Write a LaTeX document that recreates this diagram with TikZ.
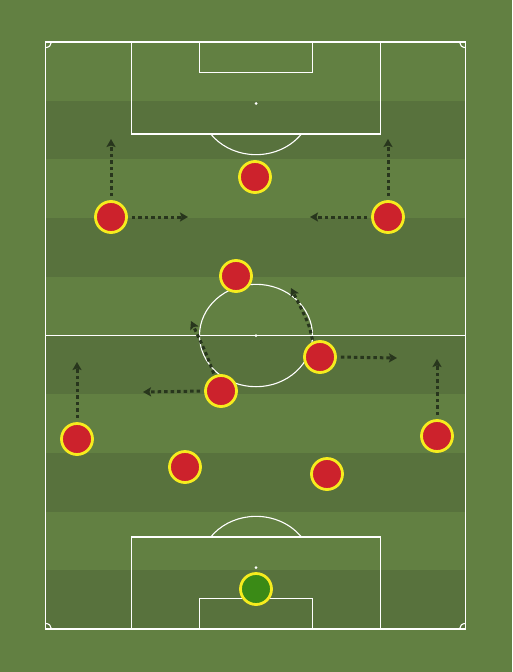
\documentclass[tikz,border=0pt]{standalone}
\usetikzlibrary{arrows.meta,shadows}
\definecolor{grassL}{RGB}{98,128,66}
\definecolor{grassD}{RGB}{88,114,61}
\definecolor{kitred}{RGB}{204,34,44}
\definecolor{kitring}{RGB}{246,236,30}
\definecolor{gkgreen}{RGB}{58,138,22}
\definecolor{arrowc}{RGB}{40,54,29}
\begin{document}
\begin{tikzpicture}[x=1pt,y=-1pt,
  pline/.style={draw=white, line width=1.1pt},
  stripe/.style={fill=grassD, draw=none},
  player/.style={circle, fill=kitred, draw=kitring, line width=2.8pt, minimum size=31pt, inner sep=0pt,
    drop shadow={opacity=0.25, shadow xshift=0pt, shadow yshift=-1pt}},
  keeper/.style={player, fill=gkgreen},
  run/.style={draw=arrowc, line width=3pt, dash pattern=on 3.5pt off 3pt,
    -{Stealth[length=8pt,width=9pt,inset=1.5pt]}},
  spot/.style={circle, fill=white, inner sep=0pt, minimum size=3pt}]
% background
\fill[grassL] (0,0) rectangle (512,672);
\useasboundingbox (0,0) rectangle (512,672);
% stripes
\foreach \k in {1,3,5,7,9}{
  \fill[grassD] (45.5,{42+58.7*\k}) rectangle (465.5,{42+58.7*(\k+1)});
}
% pitch outline and lines
\draw[pline] (45.5,42) rectangle (465.5,629);
\draw[pline] (45.5,335.5) -- (465.5,335.5);
\draw[pline] (256,335.5) ellipse[x radius=56.5, y radius=51.2];
\node[spot] (cs) at (256,335.5) {};
% top end
\draw[pline] (131.5,42) rectangle (380.5,134);
\draw[pline] (199.5,42) rectangle (312.5,72.7);
\node[spot] (ts) at (256,103.5) {};
\draw[pline] (301.4,134) arc[start angle=36.6, end angle=143.4, x radius=56.5, y radius=51.2];
% bottom end
\draw[pline] (131.5,537) rectangle (380.5,629);
\draw[pline] (199.5,598.3) rectangle (312.5,629);
\node[spot] (bs) at (256,567.5) {};
\draw[pline] (301.4,537) arc[start angle=-36.6, end angle=-143.4, x radius=56.5, y radius=51.2];
% corner arcs
\draw[pline] (51.5,42) arc[start angle=0, end angle=90, x radius=6, y radius=5.6];
\draw[pline] (459.5,42) arc[start angle=180, end angle=90, x radius=6, y radius=5.6];
\draw[pline] (51.5,629) arc[start angle=0, end angle=-90, x radius=6, y radius=5.6];
\draw[pline] (459.5,629) arc[start angle=180, end angle=270, x radius=6, y radius=5.6];
% players
\node[player] (p1) at (255,177) {};
\node[player] (p2) at (111,217) {};
\node[player] (p3) at (388,217) {};
\node[player] (p4) at (236,276) {};
\node[player] (p5) at (320,357) {};
\node[player] (p6) at (221,391) {};
\node[player] (p7) at (77,439) {};
\node[player] (p8) at (437,436) {};
\node[player] (p9) at (185,467) {};
\node[player] (p10) at (327,474) {};
\node[keeper] (gk) at (256,589) {};
% arrow targets
\coordinate (t1) at (111,139);
\coordinate (t2) at (188,217);
\coordinate (t3) at (388,139);
\coordinate (t4) at (310,217);
\coordinate (t5) at (291,288);
\coordinate (t6) at (191,321);
\coordinate (t7) at (397,358);
\coordinate (t8) at (143,392);
\coordinate (t9) at (77,362);
\coordinate (t10) at (437,359);
% runs
\begin{scope}[on background layer/.style={}]
\draw[run, shorten <=4pt] (p2.north) -- (t1);
\draw[run, shorten <=4pt] (p2.east) -- (t2);
\draw[run, shorten <=4pt] (p3.north) -- (t3);
\draw[run, shorten <=4pt] (p3.west) -- (t4);
\draw[run, shorten <=2pt] (p5.115) .. controls (309,324) .. (t5);
\draw[run, shorten <=2pt] (p6.113) .. controls (206,353) .. (t6);
\draw[run, shorten <=4pt] (p5.east) -- (t7);
\draw[run, shorten <=4pt] (p6.west) -- (t8);
\draw[run, shorten <=4pt] (p7.north) -- (t9);
\draw[run, shorten <=4pt] (p8.north) -- (t10);
\end{scope}
\end{tikzpicture}
\end{document}
